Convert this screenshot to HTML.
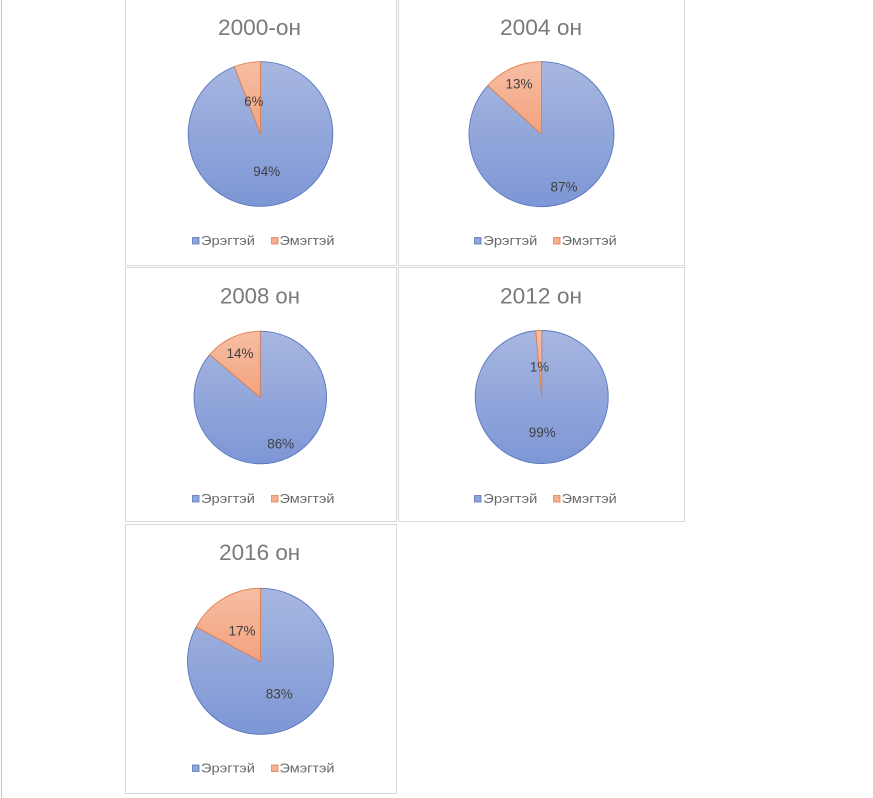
<!DOCTYPE html>
<html>
<head>
<meta charset="utf-8">
<style>
html,body{margin:0;padding:0;background:#fff;}
body{width:873px;height:798px;overflow:hidden;}
svg{display:block;}
.t{font-family:"Liberation Sans",sans-serif;font-size:22px;fill:#7a7a7a;text-anchor:middle;}
.d{font-family:"Liberation Sans",sans-serif;font-size:14px;fill:#404040;text-anchor:middle;}
.l{font-family:"Liberation Sans",sans-serif;font-size:13px;fill:#6a6a6a;}
</style>
</head>
<body>
<svg width="873" height="798" viewBox="0 0 873 798" xmlns="http://www.w3.org/2000/svg">
<defs>
<linearGradient id="gb" x1="0" y1="0" x2="0" y2="1">
<stop offset="0" stop-color="#a7b7e0"/>
<stop offset="1" stop-color="#7d96d5"/>
</linearGradient>
<linearGradient id="go" x1="0" y1="0" x2="0" y2="1">
<stop offset="0" stop-color="#f7bea4"/>
<stop offset="1" stop-color="#f2a27e"/>
</linearGradient>
</defs>
<rect x="0" y="0" width="873" height="798" fill="#fff"/>
<rect x="1" y="0" width="1" height="798" fill="#c4c4c4"/>

<!-- panel borders -->
<g fill="none" stroke="#d9d9d9" stroke-width="1">
<rect x="125.5" y="-2" width="271" height="267.5"/>
<rect x="398.5" y="-2" width="286" height="267.5"/>
<rect x="125.5" y="267.5" width="271" height="254"/>
<rect x="398.5" y="267.5" width="286" height="254"/>
<rect x="125.5" y="524.5" width="271" height="269"/>
</g>

<!-- titles -->
<text class="t" x="259.5" y="35" textLength="83" lengthAdjust="spacingAndGlyphs">2000-он</text>
<text class="t" x="541" y="35" textLength="82" lengthAdjust="spacingAndGlyphs">2004 он</text>
<text class="t" x="260" y="303.5" textLength="80" lengthAdjust="spacingAndGlyphs">2008 он</text>
<text class="t" x="541" y="303.5" textLength="82" lengthAdjust="spacingAndGlyphs">2012 он</text>
<text class="t" x="259.7" y="560" textLength="81" lengthAdjust="spacingAndGlyphs">2016 он</text>

<!-- pies -->
<g stroke-width="0.9" stroke-linejoin="round">
<!-- 2000 -->
<path d="M260.5,134 L260.5,61.7 A72.3,72.3 0 1 1 234.31,66.61 Z" fill="url(#gb)" stroke="#5a77bf"/>
<path d="M260.5,134 L234.31,66.61 A72.3,72.3 0 0 1 260.5,61.7 Z" fill="url(#go)" stroke="#e2804f"/>
<!-- 2004 -->
<path d="M541.5,134.2 L541.5,61.7 A72.5,72.5 0 1 1 487.72,85.58 Z" fill="url(#gb)" stroke="#5a77bf"/>
<path d="M541.5,134.2 L487.72,85.58 A72.5,72.5 0 0 1 541.5,61.7 Z" fill="url(#go)" stroke="#e2804f"/>
<!-- 2008 -->
<path d="M260.3,397.5 L260.3,331.2 A66.3,66.3 0 1 1 209.76,354.59 Z" fill="url(#gb)" stroke="#5a77bf"/>
<path d="M260.3,397.5 L209.76,354.59 A66.3,66.3 0 0 1 260.3,331.2 Z" fill="url(#go)" stroke="#e2804f"/>
<!-- 2012 -->
<path d="M541.7,397 L541.7,330.5 A66.5,66.5 0 1 1 535.86,330.76 Z" fill="url(#gb)" stroke="#5a77bf"/>
<path d="M541.7,397 L535.86,330.76 A66.5,66.5 0 0 1 541.7,330.5 Z" fill="url(#go)" stroke="#e2804f"/>
<!-- 2016 -->
<path d="M260.5,661.3 L260.5,588.3 A73,73 0 1 1 196.09,626.94 Z" fill="url(#gb)" stroke="#5a77bf"/>
<path d="M260.5,661.3 L196.09,626.94 A73,73 0 0 1 260.5,588.3 Z" fill="url(#go)" stroke="#e2804f"/>
</g>

<!-- data labels -->
<text class="d" x="253.8" y="106" textLength="19" lengthAdjust="spacingAndGlyphs">6%</text>
<text class="d" x="266.7" y="176" textLength="27" lengthAdjust="spacingAndGlyphs">94%</text>
<text class="d" x="519" y="88.6" textLength="27" lengthAdjust="spacingAndGlyphs">13%</text>
<text class="d" x="564" y="191.3" textLength="27" lengthAdjust="spacingAndGlyphs">87%</text>
<text class="d" x="240" y="358" textLength="27" lengthAdjust="spacingAndGlyphs">14%</text>
<text class="d" x="280.7" y="448.6" textLength="27" lengthAdjust="spacingAndGlyphs">86%</text>
<text class="d" x="539.5" y="371.3" textLength="19" lengthAdjust="spacingAndGlyphs">1%</text>
<text class="d" x="542.3" y="437" textLength="27" lengthAdjust="spacingAndGlyphs">99%</text>
<text class="d" x="242" y="635.3" textLength="27" lengthAdjust="spacingAndGlyphs">17%</text>
<text class="d" x="279.3" y="698.6" textLength="27" lengthAdjust="spacingAndGlyphs">83%</text>

<!-- legends -->
<g stroke-width="0.8">
<!-- panel 1 -->
<rect x="192.5" y="237.5" width="6.5" height="6.5" fill="#8ea5dc" stroke="#5a77bf"/>
<text class="l" x="201" y="245" textLength="54" lengthAdjust="spacingAndGlyphs">Эрэгтэй</text>
<rect x="271.5" y="237.5" width="6.5" height="6.5" fill="#f5b092" stroke="#e2804f"/>
<text class="l" x="279.5" y="245" textLength="55" lengthAdjust="spacingAndGlyphs">Эмэгтэй</text>
<!-- panel 2 -->
<rect x="474.5" y="237.5" width="6.5" height="6.5" fill="#8ea5dc" stroke="#5a77bf"/>
<text class="l" x="483.3" y="245" textLength="54" lengthAdjust="spacingAndGlyphs">Эрэгтэй</text>
<rect x="553.5" y="237.5" width="6.5" height="6.5" fill="#f5b092" stroke="#e2804f"/>
<text class="l" x="561.7" y="245" textLength="55" lengthAdjust="spacingAndGlyphs">Эмэгтэй</text>
<!-- panel 3 -->
<rect x="192.5" y="495.5" width="6.5" height="6.5" fill="#8ea5dc" stroke="#5a77bf"/>
<text class="l" x="201" y="503" textLength="54" lengthAdjust="spacingAndGlyphs">Эрэгтэй</text>
<rect x="271.5" y="495.5" width="6.5" height="6.5" fill="#f5b092" stroke="#e2804f"/>
<text class="l" x="279.5" y="503" textLength="55" lengthAdjust="spacingAndGlyphs">Эмэгтэй</text>
<!-- panel 4 -->
<rect x="474.5" y="495.5" width="6.5" height="6.5" fill="#8ea5dc" stroke="#5a77bf"/>
<text class="l" x="483.3" y="503" textLength="54" lengthAdjust="spacingAndGlyphs">Эрэгтэй</text>
<rect x="553.5" y="495.5" width="6.5" height="6.5" fill="#f5b092" stroke="#e2804f"/>
<text class="l" x="561.7" y="503" textLength="55" lengthAdjust="spacingAndGlyphs">Эмэгтэй</text>
<!-- panel 5 -->
<rect x="192.5" y="765" width="6.5" height="6.5" fill="#8ea5dc" stroke="#5a77bf"/>
<text class="l" x="201" y="772.5" textLength="54" lengthAdjust="spacingAndGlyphs">Эрэгтэй</text>
<rect x="271.5" y="765" width="6.5" height="6.5" fill="#f5b092" stroke="#e2804f"/>
<text class="l" x="279.5" y="772.5" textLength="55" lengthAdjust="spacingAndGlyphs">Эмэгтэй</text>
</g>
</svg>
</body>
</html>
